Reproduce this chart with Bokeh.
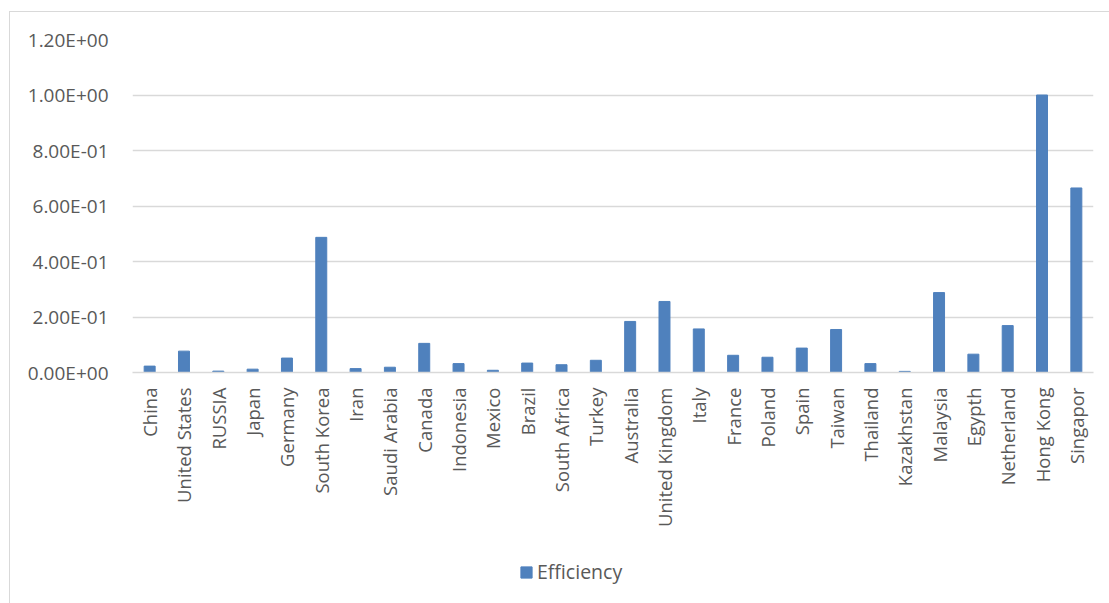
from bokeh.plotting import figure
from bokeh.layouts import column
from bokeh.models import ColumnDataSource, FixedTicker, Legend, LegendItem, Range1d
from bokeh.embed import file_html
from bokeh.resources import INLINE

countries = ["China", "United States", "RUSSIA", "Japan", "Germany", "South Korea", "Iran",
             "Saudi Arabia", "Canada", "Indonesia", "Mexico", "Brazil", "South Africa", "Turkey",
             "Australia", "United Kingdom", "Italy", "France", "Poland", "Spain", "Taiwan",
             "Thailand", "Kazakhstan", "Malaysia", "Egypth", "Netherland", "Hong Kong", "Singapor"]
efficiency = [0.023, 0.077, 0.005, 0.012, 0.052, 0.487, 0.014,
              0.019, 0.105, 0.032, 0.008, 0.034, 0.028, 0.044,
              0.184, 0.256, 0.157, 0.062, 0.055, 0.088, 0.155,
              0.032, 0.004, 0.288, 0.066, 0.169, 1.0, 0.665]
y_ticks = [0.0, 0.2, 0.4, 0.6, 0.8, 1.0, 1.2]
y_tick_labels = ["0.00E+00", "2.00E-01", "4.00E-01", "6.00E-01", "8.00E-01", "1.00E+00", "1.20E+00"]
series_name = "Efficiency"

FONT = "Open Sans"
TXT = "#595959"
GRID = "#d9d9d9"
BAR = "#4f81bd"

src = ColumnDataSource(dict(country=countries, value=efficiency))

p = figure(x_range=countries, y_range=Range1d(0, 1.2), width=1109, height=545,
           output_backend="svg", toolbar_location=None,
           min_border_left=132, min_border_right=16, min_border_top=39, min_border_bottom=173)
p.outline_line_color = None
p.background_fill_color = "white"
p.border_fill_color = None

p.vbar(x="country", top="value", width=0.32, source=src, color=BAR, line_color=BAR)

p.x_range.range_padding = 0
p.xgrid.grid_line_color = None
p.ygrid.grid_line_color = GRID
p.ygrid.grid_line_width = 1.5

p.yaxis.ticker = FixedTicker(ticks=y_ticks)
p.yaxis.major_label_overrides = {t: l for t, l in zip(y_ticks, y_tick_labels)}
p.yaxis.axis_line_color = None
p.yaxis.major_tick_line_color = None
p.yaxis.minor_tick_line_color = None
p.yaxis.major_label_text_font = FONT
p.yaxis.major_label_text_font_size = "19px"
p.yaxis.major_label_text_color = TXT
p.yaxis.major_label_standoff = 18

p.xaxis.axis_line_color = GRID
p.xaxis.axis_line_width = 1.5
p.xaxis.major_tick_line_color = None
p.xaxis.minor_tick_line_color = None
p.xaxis.major_label_orientation = 1.5707963
p.xaxis.major_label_text_font = FONT
p.xaxis.major_label_text_font_size = "18.5px"
p.xaxis.major_label_text_color = TXT
p.xaxis.major_label_standoff = 9

# legend strip (its frame is aligned with the main frame by the column layout)
lf = figure(width=1109, height=58, x_range=Range1d(0, 1), y_range=Range1d(0, 1),
            output_backend="svg", toolbar_location=None,
            min_border_left=0, min_border_right=0, min_border_top=0, min_border_bottom=0)
lf.axis.visible = False
lf.grid.visible = False
lf.outline_line_color = None
lf.background_fill_color = None
lf.border_fill_color = None
leg_src = ColumnDataSource(dict(left=[5.0], right=[5.1], top=[6.0], bottom=[5.5]))
lr = lf.quad(left="left", right="right", top="top", bottom="bottom", source=leg_src,
             color=BAR, line_color=BAR)
legend = Legend(items=[LegendItem(label=series_name, renderers=[lr])],
                location=(387, 18), border_line_color=None, background_fill_alpha=0,
                label_text_font=FONT, label_text_font_size="19.5px", label_text_color=TXT,
                glyph_width=14, glyph_height=14, label_standoff=4, padding=0, margin=0)
lf.add_layout(legend, "center")

layout = column(p, lf, spacing=0, styles={
    "background-color": "white",
    "background-image": "linear-gradient(#d9d9d9, #d9d9d9), linear-gradient(#d9d9d9, #d9d9d9)",
    "background-size": "calc(100% - 9px) 1px, 1px calc(100% - 11px)",
    "background-position": "9px 11px, 9px 11px",
    "background-repeat": "no-repeat",
})

open("out.html", "w").write(file_html(layout, INLINE))
